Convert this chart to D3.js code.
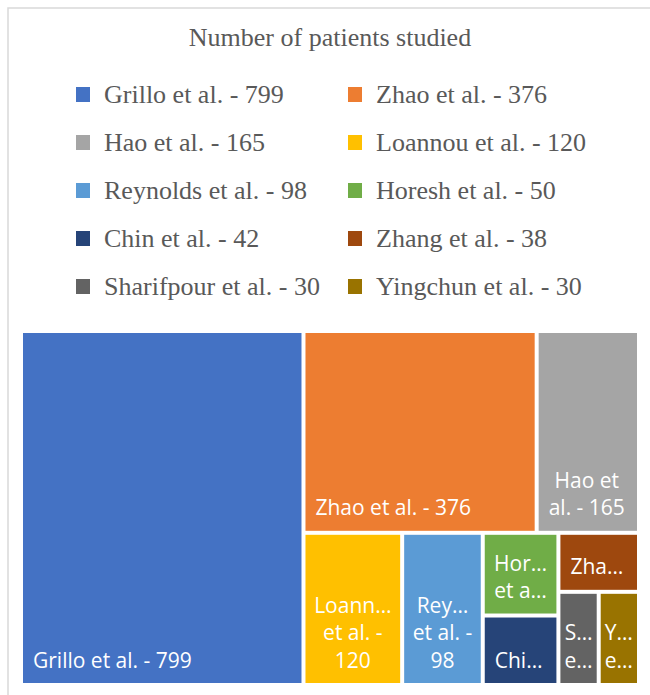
<!DOCTYPE html>
<html>
<head>
<meta charset="utf-8">
<script src="https://cdn.jsdelivr.net/npm/d3@7"></script>
<style>
  body { margin: 0; background: #fff; }
</style>
</head>
<body>
<svg id="canvas" width="650" height="695"></svg>
<script>
var studies = ['Grillo et al.', 'Zhao et al.', 'Hao et al.', 'Loannou et al.', 'Reynolds et al.',
  'Horesh et al.', 'Chin et al.', 'Zhang et al.', 'Sharifpour et al.', 'Yingchun et al.'];
var patients = [799, 376, 165, 120, 98, 50, 42, 38, 30, 30];
var colors = ['#4472c4', '#ed7d31', '#a5a5a5', '#ffc000', '#5b9bd5',
  '#70ad47', '#264478', '#9e480e', '#636363', '#997300'];
// labels as excel shows them inside the tiles (wrapped / cut)
var tileLabels = [['Grillo et al. - 799'], ['Zhao et al. - 376'], ['Hao et', 'al. - 165'],
  ['Loann\u2026', 'et al. -', '120'], ['Rey\u2026', 'et al. -', '98'], ['Hor\u2026', 'et a\u2026'],
  ['Chi\u2026'], ['Zha\u2026'], ['S\u2026', 'e\u2026'], ['Y\u2026', 'e\u2026']];
// how the tiles are grouped (indices into the arrays above)
var groups = [0, [[1, 2], [3, 4, [5, 6], [7, [8, 9]]]]];

var svg = d3.select('#canvas');

svg.append('rect')
  .attr('x', 8).attr('y', 8)
  .attr('width', 700).attr('height', 720)
  .attr('fill', '#fff')
  .attr('stroke', '#d9d9d9')
  .attr('stroke-width', 1.5);

svg.append('text')
  .attr('x', 330).attr('y', 46)
  .attr('text-anchor', 'middle')
  .style('font-family', '"Liberation Serif", "Times New Roman", serif')
  .style('font-size', '26px')
  .style('fill', '#595959')
  .text('Number of patients studied');

// legend, two columns
var legend = svg.append('g').selectAll('g')
  .data(studies)
  .enter().append('g')
  .attr('transform', function(d, i) {
    return 'translate(' + (i % 2 ? 348 : 76) + ',' + (103 + Math.floor(i / 2) * 48) + ')';
  });
legend.append('rect')
  .attr('x', 0).attr('y', -16)
  .attr('width', 14).attr('height', 15)
  .attr('fill', function(d, i) { return colors[i]; });
legend.append('text')
  .attr('x', 28).attr('y', 0)
  .style('font-family', '"Liberation Serif", "Times New Roman", serif')
  .style('font-size', '26px')
  .style('fill', '#595959')
  .text(function(d, i) { return d + ' - ' + patients[i]; });

// treemap
function build(g) {
  return Array.isArray(g) ? {children: g.map(build)} : {i: g, value: patients[g]};
}
var root = d3.hierarchy(build(groups)).sum(function(d) { return d.value || 0; });
d3.treemap()
  .tile(d3.treemapSliceDice)
  .size([614, 350])
  .paddingInner(4)(root);

var tiles = svg.append('g')
  .attr('transform', 'translate(23,333)')
  .selectAll('g')
  .data(root.leaves())
  .enter().append('g');

tiles.append('rect')
  .attr('x', function(d) { return d.x0; })
  .attr('y', function(d) { return d.y0; })
  .attr('width', function(d) { return d.x1 - d.x0; })
  .attr('height', function(d) { return d.y1 - d.y0; })
  .attr('fill', function(d) { return colors[d.data.i]; });

tiles.each(function(d) {
  var g = d3.select(this),
    lines = tileLabels[d.data.i],
    n = lines.length;
  var t = g.selectAll('text')
    .data(lines)
    .enter().append('text')
    .attr('y', function(l, k) { return d.y1 - 15.5 - (n - 1 - k) * 27.5; })
    .style('font-family', '"Open Sans", sans-serif')
    .style('font-size', '21px')
    .style('fill', '#fff')
    .text(function(l) { return l; });
  var widths = [];
  t.each(function() { widths.push(this.getComputedTextLength()); });
  var w = d3.max(widths),
    left = Math.min(d.x0 + 10, (d.x0 + d.x1) / 2 - w / 2);
  t.attr('x', function(l, k) { return left + (w - widths[k]) / 2; });
});
</script>
</body>
</html>
